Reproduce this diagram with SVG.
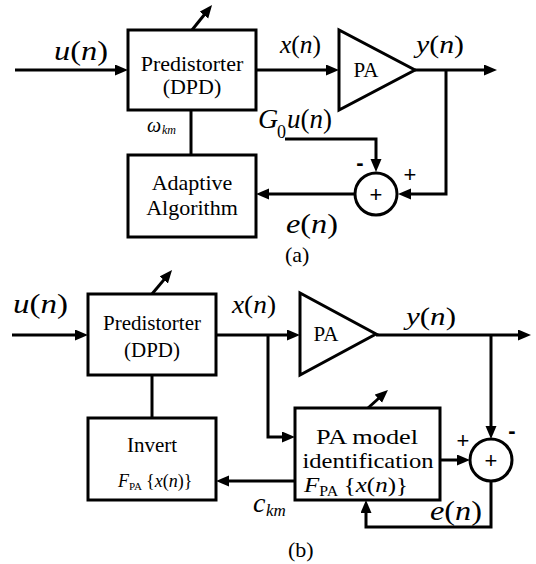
<svg xmlns="http://www.w3.org/2000/svg" width="536" height="564" viewBox="0 0 536 564" font-family="Liberation Serif, Times New Roman, serif">
<defs>
<marker id="ah" markerUnits="userSpaceOnUse" markerWidth="14" markerHeight="12" refX="7" refY="5.5" orient="auto">
<path d="M0,0 L13,5.5 L0,11 z" fill="#000"/>
</marker>
<style>
.box{fill:#fff;stroke:#000;stroke-width:3}
.ln{fill:none;stroke:#000;stroke-width:3}
.ar{fill:none;stroke:#000;stroke-width:3;marker-end:url(#ah)}
.t{font-family:"Liberation Serif","Times New Roman",serif;text-anchor:middle;fill:#000}
.m{font-family:"Liberation Serif","Times New Roman",serif;fill:#000}
.i{font-style:italic}
.s{font-family:"Liberation Sans",Arial,sans-serif;text-anchor:middle;fill:#000}
</style>
</defs>
<rect width="536" height="564" fill="#fff"/>

<g id="connectors">
<line class="ar" x1="15" y1="70" x2="122" y2="70"/>
<line class="ar" x1="256" y1="70" x2="333" y2="70"/>
<line class="ar" x1="415" y1="70" x2="491" y2="70"/>
<polyline class="ar" points="446,70 446,194 404,194"/>
<polyline class="ar" points="285,139 376,139 376,166"/>
<line class="ar" x1="355" y1="194" x2="262" y2="194"/>
<line class="ln" x1="191" y1="110" x2="191" y2="155"/>
<line class="ar" x1="192" y1="30" x2="208.3" y2="9.7"/>

<line class="ar" x1="12" y1="335" x2="82" y2="335"/>
<line class="ar" x1="216" y1="335" x2="294" y2="335"/>
<polyline class="ar" points="268,335 268,437 289,437"/>
<line class="ar" x1="376" y1="335" x2="525" y2="335"/>
<line class="ar" x1="491" y1="335" x2="491" y2="433"/>
<line class="ar" x1="440" y1="460" x2="464" y2="460"/>
<polyline class="ar" points="491,481 491,527 366,527 366,506"/>
<line class="ar" x1="295" y1="481" x2="222" y2="481"/>
<line class="ln" x1="152" y1="375" x2="152" y2="418"/>
<line class="ar" x1="152" y1="294" x2="168.2" y2="274.6"/>
<line class="ar" x1="368" y1="408" x2="383.5" y2="394"/>
</g>

<g id="dpd-a">
<rect class="box" x="128" y="30" width="128" height="80"/>
<text class="t" x="192" y="71" font-size="22">Predistorter</text>
<text class="t" x="192" y="94" font-size="22">(DPD)</text>
</g>
<g id="pa-a">
<polygon class="box" points="339,30 339,110 415,70"/>
<text class="t" x="366" y="77" font-size="21">PA</text>
</g>
<g id="adaptive-a">
<rect class="box" x="128" y="155" width="128" height="82"/>
<text class="t" x="192" y="190" font-size="22">Adaptive</text>
<text class="t" x="192" y="215" font-size="22">Algorithm</text>
</g>
<g id="sum-a">
<circle class="box" cx="376" cy="194" r="21"/>
<text class="s" x="376" y="202" font-size="22">+</text>
</g>

<g id="labels-a">
<text class="m" x="54" y="60" font-size="28" textLength="54" lengthAdjust="spacingAndGlyphs"><tspan class="i">u</tspan>(<tspan class="i">n</tspan>)</text>
<text class="m" x="280" y="53" font-size="25" textLength="41" lengthAdjust="spacingAndGlyphs"><tspan class="i">x</tspan>(<tspan class="i">n</tspan>)</text>
<text class="m" x="416" y="53" font-size="26" textLength="48" lengthAdjust="spacingAndGlyphs"><tspan class="i">y</tspan>(<tspan class="i">n</tspan>)</text>
<text class="m i" x="258" y="128" font-size="28">G</text>
<text class="m" x="277" y="138" font-size="18">0</text>
<text class="m" x="287" y="128" font-size="28" textLength="45" lengthAdjust="spacingAndGlyphs"><tspan class="i">u</tspan>(<tspan class="i">n</tspan>)</text>
<text class="m i" x="147" y="132" font-size="20">ω</text>
<text class="m i" x="162" y="134" font-size="12">km</text>
<text class="m" x="286" y="233" font-size="28" textLength="52" lengthAdjust="spacingAndGlyphs"><tspan class="i">e</tspan>(<tspan class="i">n</tspan>)</text>
<text class="s" x="360" y="170" font-size="22" font-weight="bold">-</text>
<text class="s" x="410" y="182" font-size="22">+</text>
<text class="m" x="285" y="262" font-size="22">(a)</text>
</g>

<g id="dpd-b">
<rect class="box" x="88" y="294" width="128" height="81"/>
<text class="t" x="152" y="330" font-size="21">Predistorter</text>
<text class="t" x="152" y="357" font-size="21">(DPD)</text>
</g>
<g id="pa-b">
<polygon class="box" points="300,293 300,375 376,334"/>
<text class="t" x="326" y="341" font-size="21">PA</text>
</g>
<g id="invert-b">
<rect class="box" x="88" y="418" width="128" height="82"/>
<text class="t" x="152" y="452" font-size="21">Invert</text>
<text class="m" x="118" y="487" font-size="18"><tspan class="i">F</tspan><tspan font-size="11" dy="3">PA</tspan><tspan dy="-3" dx="4">{</tspan><tspan class="i">x</tspan>(<tspan class="i">n</tspan>)}</text>
</g>
<g id="pamodel-b">
<rect class="box" x="295" y="408" width="145" height="92"/>
<text class="t" x="367" y="444" font-size="21.5" textLength="102" lengthAdjust="spacingAndGlyphs">PA model</text>
<text class="t" x="368" y="468" font-size="21.5" textLength="131" lengthAdjust="spacingAndGlyphs">identification</text>
<text class="m" x="304" y="492" font-size="22" textLength="104" lengthAdjust="spacingAndGlyphs"><tspan class="i">F</tspan><tspan font-size="14" dy="4">PA</tspan><tspan dy="-4" dx="5">{</tspan><tspan class="i">x</tspan>(<tspan class="i">n</tspan>)}</text>
</g>
<g id="sum-b">
<circle class="box" cx="491" cy="460" r="21"/>
<text class="s" x="491" y="468" font-size="22">+</text>
</g>

<g id="labels-b">
<text class="m" x="13" y="313" font-size="28" textLength="55" lengthAdjust="spacingAndGlyphs"><tspan class="i">u</tspan>(<tspan class="i">n</tspan>)</text>
<text class="m" x="232" y="313" font-size="26" textLength="44" lengthAdjust="spacingAndGlyphs"><tspan class="i">x</tspan>(<tspan class="i">n</tspan>)</text>
<text class="m" x="406" y="325" font-size="26" textLength="50" lengthAdjust="spacingAndGlyphs"><tspan class="i">y</tspan>(<tspan class="i">n</tspan>)</text>
<text class="m" x="430" y="520" font-size="28" textLength="52" lengthAdjust="spacingAndGlyphs"><tspan class="i">e</tspan>(<tspan class="i">n</tspan>)</text>
<text class="m i" x="253" y="512" font-size="28">c</text>
<text class="m i" x="266" y="516" font-size="17">km</text>
<text class="s" x="463" y="448" font-size="22">+</text>
<text class="s" x="512" y="438" font-size="22" font-weight="bold">-</text>
<text class="m" x="288" y="557" font-size="22">(b)</text>
</g>
</svg>
